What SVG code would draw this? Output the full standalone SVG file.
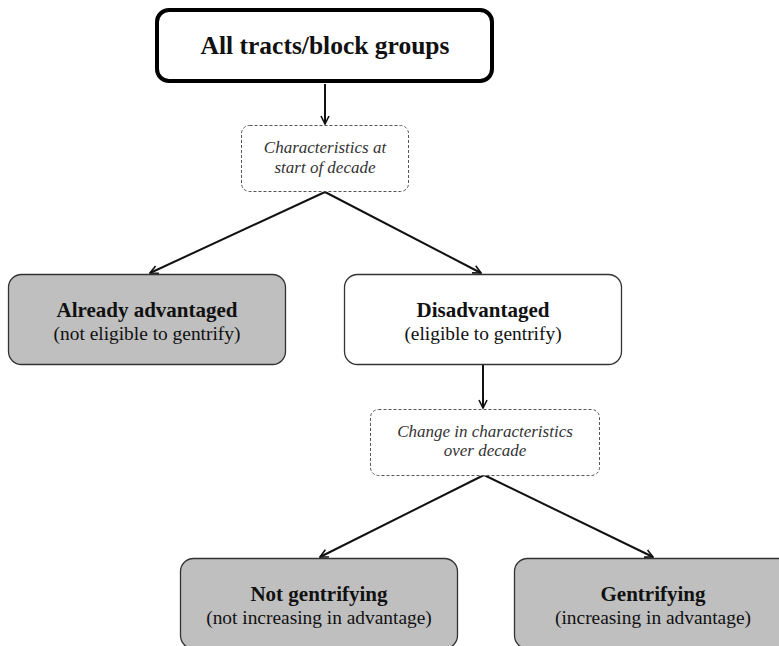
<svg xmlns="http://www.w3.org/2000/svg" width="779" height="646" viewBox="0 0 779 646">
<style>
.box{stroke:#333;stroke-width:1.3}
.grey{fill:#bfbfbf}
.white{fill:#fff}
.dash{fill:#fff;stroke:#555;stroke-width:1;stroke-dasharray:3 2}
.t{font-family:"Liberation Serif","Times New Roman",serif;text-anchor:middle;fill:#111}
.b{font-weight:bold;font-size:21px}
.r{font-size:19.4px}
.i{font-style:italic;font-size:17px;fill:#333}
.c{stroke:#111;stroke-width:2;fill:none;marker-end:url(#ah)}
</style>
<defs>
<marker id="ah" viewBox="0 0 10 10" refX="9" refY="5" markerWidth="5" markerHeight="5" orient="auto" markerUnits="strokeWidth">
<path d="M1,1 L9,5 L1,9" fill="none" stroke="#111" stroke-width="1.6"/>
</marker>
</defs>
<rect width="779" height="646" fill="#fff"/>
<g id="connectors">
<line class="c" x1="325" y1="84" x2="325" y2="124"/>
<line class="c" x1="325" y1="192" x2="150" y2="273"/>
<line class="c" x1="325" y1="192" x2="481" y2="273"/>
<line class="c" x1="483" y1="364" x2="483" y2="408"/>
<line class="c" x1="484" y1="475" x2="320" y2="557"/>
<line class="c" x1="484" y1="475" x2="653" y2="557"/>
</g>
<g id="all">
<rect x="157" y="10" width="335" height="71" rx="12" fill="#fff" stroke="#000" stroke-width="4"/>
<text class="t" x="325" y="54" font-weight="bold" font-size="25.5">All tracts/block groups</text>
</g>
<g id="start">
<rect class="dash" x="241.5" y="125.5" width="167" height="66" rx="8"/>
<text class="t i" x="325" y="153">Characteristics at</text>
<text class="t i" x="325" y="173">start of decade</text>
</g>
<g id="advantaged">
<rect class="box grey" x="8.5" y="274.5" width="277" height="90" rx="13"/>
<text class="t b" x="147" y="317">Already advantaged</text>
<text class="t r" x="147" y="340">(not eligible to gentrify)</text>
</g>
<g id="disadvantaged">
<rect class="box white" x="344.5" y="274.5" width="277" height="90" rx="13"/>
<text class="t b" x="483" y="317">Disadvantaged</text>
<text class="t r" x="483" y="340">(eligible to gentrify)</text>
</g>
<g id="change">
<rect class="dash" x="370.5" y="409.5" width="229" height="66" rx="8"/>
<text class="t i" x="485" y="437">Change in characteristics</text>
<text class="t i" x="485" y="456">over decade</text>
</g>
<g id="notgent">
<rect class="box grey" x="180.5" y="558.5" width="277" height="90" rx="13"/>
<text class="t b" x="319" y="601">Not gentrifying</text>
<text class="t r" x="319" y="624">(not increasing in advantage)</text>
</g>
<g id="gent">
<rect class="box grey" x="514.5" y="558.5" width="277" height="90" rx="13"/>
<text class="t b" x="653" y="601">Gentrifying</text>
<text class="t r" x="653" y="624">(increasing in advantage)</text>
</g>
</svg>
